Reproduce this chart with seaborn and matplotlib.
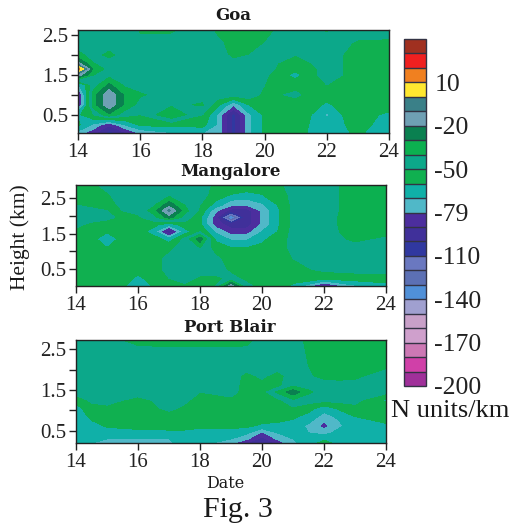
import matplotlib
matplotlib.use('Agg')
import matplotlib.pyplot as plt
from matplotlib.colors import ListedColormap, BoundaryNorm
import seaborn as sns
import numpy as np

# colour key, bottom to top
levels = list(range(-200, 50, 10))
key_colors = ['#A0309A', '#D040A8', '#CC78B4', '#CFA0CC', '#C8A0C8', '#A0A0D0',
              '#5090D8', '#5C70B4', '#6A78C0', '#3038A0', '#40309A', '#4C2E9E',
              '#50B8C8', '#10B0A8', '#10B050', '#0CA88A', '#0CB050', '#0A8050',
              '#6FA0B4', '#3A8088', '#FFE830', '#F08020', '#F02020', '#A03020']
key_ticks = [10, -20, -50, -80, -110, -140, -170, -200]
key_labels = ['10', '-20', '-50', '-79', '-110', '-140', '-170', '-200']

date_ticks = [14, 16, 18, 20, 22, 24]
height_ticks = [0.5, 1.5, 2.5]

goa_dates = [14, 14.5, 15, 15.5, 16, 17, 18, 18.5, 19, 19.5, 20, 21, 21.5, 22, 22.5, 23, 24]
goa_heights = [2.63, 2.3, 2.0, 1.8, 1.65, 1.5, 1.25, 1.0, 0.75, 0.5, 0.25, 0.04]
goa_values = [
    [-44, -44, -44, -44, -52, -52, -44, -53, -55, -55, -53, -44, -46, -52, -46, -44, -44],
    [-44, -44, -44, -44, -46, -46, -44, -48, -54, -54, -50, -46, -44, -44, -47, -52, -53],
    [-38, -43, -38, -44, -44, -44, -44, -45, -53, -50, -46, -50, -46, -44, -50, -54, -54],
    [-18, -40, -44, -44, -44, -44, -44, -44, -47, -46, -47, -54, -50, -47, -50, -55, -55],
    [16, -32, -44, -44, -44, -44, -44, -44, -44, -44, -47, -56, -52, -47, -50, -54, -54],
    [-14, -40, -44, -44, -44, -44, -44, -44, -44, -44, -48, -64, -52, -47, -50, -53, -53],
    [-72, -46, -28, -42, -44, -44, -44, -44, -44, -44, -50, -54, -52, -50, -53, -55, -55],
    [-95, -34, -12, -32, -39, -44, -44, -44, -46, -44, -53, -48, -54, -55, -55, -55, -55],
    [-95, -34, -12, -32, -44, -42, -39, -58, -78, -60, -55, -55, -56, -62, -56, -55, -55],
    [-62, -50, -32, -46, -50, -31, -50, -72, -105, -72, -58, -55, -60, -72, -60, -56, -62],
    [-58, -72, -88, -70, -58, -56, -56, -72, -105, -72, -58, -55, -61, -65, -61, -56, -65],
    [-74, -88, -105, -92, -78, -71, -70, -72, -105, -72, -58, -55, -62, -66, -62, -58, -68],
]

man_dates = [14, 14.5, 15, 15.5, 16, 16.5, 17, 17.5, 18, 18.5, 19, 19.5, 20, 20.5, 21, 22, 23, 24]
man_heights = [2.86, 2.6, 2.3, 2.14, 1.95, 1.75, 1.55, 1.35, 1.1, 0.8, 0.5, 0.25, 0.03]
man_values = [
    [-54, -52, -47, -45, -45, -45, -45, -45, -46, -52, -54, -55, -54, -52, -47, -45, -35, -35],
    [-53, -53, -51, -46, -45, -45, -44, -45, -46, -54, -60, -62, -60, -56, -47, -45, -35, -35],
    [-50, -52, -52, -49, -46, -42, -24, -40, -50, -64, -78, -80, -72, -60, -48, -45, -35, -36],
    [-47, -48, -50, -50, -47, -36, -8, -36, -52, -78, -95, -95, -78, -62, -48, -45, -35, -36],
    [-45, -46, -48, -52, -52, -44, -26, -44, -58, -85, -145, -95, -78, -62, -48, -44, -35, -36],
    [-48, -52, -54, -54, -54, -56, -68, -54, -58, -85, -95, -95, -78, -62, -48, -44, -35, -36],
    [-52, -53, -58, -54, -54, -66, -100, -66, -50, -72, -85, -85, -70, -60, -47, -44, -36, -37],
    [-53, -54, -72, -54, -54, -54, -66, -48, -24, -62, -72, -72, -62, -56, -47, -45, -38, -42],
    [-54, -54, -60, -54, -54, -53, -52, -47, -40, -55, -60, -60, -58, -54, -48, -45, -44, -45],
    [-54, -54, -54, -54, -54, -53, -48, -45, -45, -48, -54, -54, -54, -53, -50, -46, -46, -46],
    [-54, -54, -54, -54, -56, -54, -47, -45, -45, -46, -52, -54, -54, -54, -53, -48, -47, -47],
    [-55, -54, -54, -56, -62, -56, -50, -46, -52, -52, -48, -52, -54, -54, -56, -56, -54, -54],
    [-59, -54, -54, -57, -72, -58, -54, -52, -54, -50, -15, -48, -53, -54, -62, -95, -72, -64],
]

pb_dates = [14, 14.5, 15, 16, 17, 17.5, 18, 19, 19.5, 20, 20.5, 21, 21.5, 22, 22.5, 23, 24]
pb_heights = [2.73, 2.4, 2.1, 1.85, 1.6, 1.45, 1.25, 1.05, 0.85, 0.62, 0.45, 0.3, 0.2]
pb_values = [
    [-44, -44, -44, -36, -36, -36, -36, -36, -37, -44, -44, -44, -38, -35, -35, -35, -35],
    [-45, -45, -45, -46, -44, -44, -44, -44, -44, -45, -45, -45, -39, -35, -35, -35, -35],
    [-45, -45, -45, -45, -45, -45, -45, -45, -45, -45, -45, -45, -40, -36, -36, -36, -38],
    [-45, -45, -45, -45, -45, -45, -45, -45, -53, -48, -54, -45, -41, -38, -37, -38, -45],
    [-45, -45, -45, -45, -45, -45, -46, -46, -54, -54, -54, -40, -44, -44, -44, -44, -46],
    [-46, -46, -46, -46, -46, -46, -50, -47, -54, -55, -38, -24, -38, -46, -46, -46, -47],
    [-56, -48, -47, -53, -46, -48, -54, -52, -53, -54, -53, -42, -46, -47, -47, -47, -62],
    [-64, -54, -52, -55, -48, -52, -55, -54, -52, -54, -53, -52, -56, -66, -58, -53, -54],
    [-66, -58, -55, -55, -54, -55, -55, -55, -53, -54, -55, -58, -64, -74, -68, -60, -55],
    [-66, -63, -59, -58, -57, -57, -58, -58, -58, -62, -63, -65, -72, -84, -72, -64, -62],
    [-66, -65, -64, -62, -62, -62, -64, -63, -68, -82, -70, -66, -70, -74, -66, -64, -63],
    [-67, -68, -70, -70, -70, -68, -64, -70, -78, -95, -78, -70, -66, -62, -64, -64, -64],
    [-66, -70, -72, -72, -72, -66, -65, -78, -90, -100, -88, -72, -66, -56, -64, -64, -64],
]

W, H = 513, 526

sns.set_style('ticks')
plt.rcParams['font.family'] = ['Liberation Serif', 'DejaVu Serif']

cmap = ListedColormap(sns.color_palette(key_colors, n_colors=len(key_colors)))
norm = BoundaryNorm(levels, cmap.N)


def px_axes(fig, left, top, right, bottom):
    return fig.add_axes([left / W, 1 - bottom / H, (right - left) / W, (bottom - top) / H])


def draw_panel(fig, box, dates, heights, values):
    ax = px_axes(fig, *box)
    cs = ax.contourf(dates, heights, np.array(values), levels=levels, cmap=cmap, norm=norm)
    ax.set_xlim(14, 24)
    ax.set_ylim(heights[-1], heights[0])
    ax.set_xticks(date_ticks)
    ax.set_yticks(height_ticks)
    ax.set_yticks([1.0, 2.0], minor=True)
    ax.tick_params(axis='both', which='both', length=5, width=1, color='#222222',
                   labelsize=15, labelcolor='#222222', pad=2)
    for sp in ax.spines.values():
        sp.set_linewidth(1)
        sp.set_color('#222222')
    return cs


fig = plt.figure(figsize=(W / 100, H / 100), dpi=100, facecolor='white')

cs = draw_panel(fig, (78, 30, 389, 133), goa_dates, goa_heights, goa_values)
draw_panel(fig, (76, 185, 386, 286), man_dates, man_heights, man_values)
draw_panel(fig, (76, 340, 386, 443), pb_dates, pb_heights, pb_values)

cax = px_axes(fig, 404, 39, 426, 386)
cb = fig.colorbar(cs, cax=cax, drawedges=True, spacing='uniform')
cb.set_ticks(key_ticks)
cb.set_ticklabels(key_labels)
cb.ax.tick_params(length=0, labelsize=18.5, labelcolor='#222222', pad=6)
cb.minorticks_off()
for t in cb.ax.get_yticklabels():
    t.set_y(t.get_position()[1])
cb.dividers.set_color('#333344')
cb.dividers.set_linewidth(1)
cb.outline.set_edgecolor('#333344')
cb.outline.set_linewidth(1)


def label(x, y, s, **kw):
    fig.text(x / W, 1 - y / H, s, ha='center', va='center', color='#1a1a1a', **kw)


title_font = ['DejaVu Serif', 'Liberation Serif']
label(233, 16, 'Goa', fontsize=12, fontweight='bold', family=title_font)
label(230, 172, 'Mangalore', fontsize=12, fontweight='bold', family=title_font)
label(230, 327, 'Port Blair', fontsize=12, fontweight='bold', family=title_font)
label(225, 484, 'Date', fontsize=11.5, family=title_font)
label(238, 510, 'Fig. 3', fontsize=21.5)
label(20, 237, 'Height (km)', fontsize=15.5, rotation=90)
label(450, 411, 'N units/km', fontsize=19)

fig.savefig('out.png', dpi=100)
